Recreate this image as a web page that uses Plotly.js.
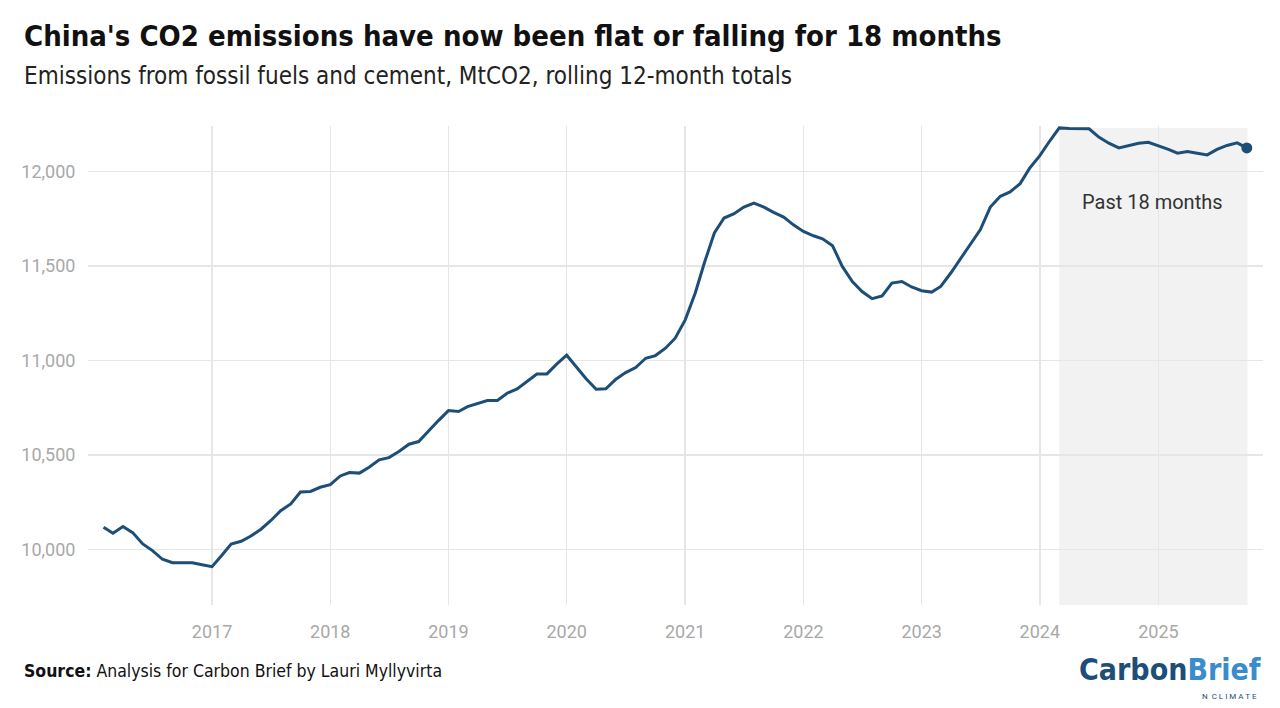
<!DOCTYPE html>
<html>
<head>
<meta charset="utf-8">
<script src="https://cdn.plot.ly/plotly-3.0.1.min.js"></script>
<style>
html,body{margin:0;padding:0;background:#fff;}
#chart{width:1280px;height:708px;}
</style>
</head>
<body>
<div id="chart"></div>
<script>
// ---- Data (MtCO2, rolling 12-month totals), monthly from Feb 2016 to Oct 2025 ----
const firstYear = 2016;
const firstMonth = 2; // February
const v2016 = [10117, 10085, 10120, 10088, 10028, 9993, 9947, 9929, 9929, 9928, 9918];
const v2017 = [9908, 9970, 10028, 10042, 10070, 10106, 10151, 10204, 10240, 10303, 10306, 10328];
const v2018 = [10342, 10388, 10406, 10403, 10434, 10473, 10485, 10517, 10556, 10570, 10628, 10681];
const v2019 = [10734, 10729, 10755, 10773, 10787, 10787, 10826, 10849, 10888, 10927, 10928, 10980];
const v2020 = [11027, 10962, 10902, 10847, 10849, 10900, 10935, 10962, 11011, 11025, 11064, 11117];
const v2021 = [11214, 11356, 11515, 11674, 11753, 11776, 11811, 11832, 11811, 11783, 11758, 11717];
const v2022 = [11682, 11659, 11643, 11606, 11497, 11417, 11364, 11326, 11341, 11409, 11417, 11388];
const v2023 = [11368, 11361, 11391, 11462, 11537, 11612, 11691, 11811, 11868, 11891, 11935, 12018];
const v2024 = [12083, 12162, 12230, 12227, 12227, 12225, 12181, 12149, 12124, 12137, 12149, 12154];
const v2025 = [12137, 12116, 12096, 12105, 12096, 12087, 12116, 12137, 12151, 12124];

const yTickVals = [10000, 10500, 11000, 11500, 12000];
const xTickVals = ['2017-01-01','2018-01-01','2019-01-01','2020-01-01','2021-01-01','2022-01-01','2023-01-01','2024-01-01','2025-01-01'];
const xTickText = ['2017','2018','2019','2020','2021','2022','2023','2024','2025'];
const shadeStart = '2024-03-01';
const shadeEnd = '2025-10-03';
const shadeLabel = 'Past 18 months';

const values = [].concat(v2016, v2017, v2018, v2019, v2020, v2021, v2022, v2023, v2024, v2025);
const dates = values.map((_, i) => {
  const m0 = (firstMonth - 1) + i;
  const y = firstYear + Math.floor(m0 / 12);
  const m = (m0 % 12) + 1;
  return y + '-' + String(m).padStart(2, '0') + '-01';
});

// ---- Layout geometry ----
const W = 1280, H = 708;
const M = {l: 88, r: 17, t: 126, b: 103};
const PW = W - M.l - M.r, PH = H - M.t - M.b;
const px = x => (x - M.l) / PW;
const py = y => (H - M.b - y) / PH;

const lineColor = '#1d4e77';
const condensed = '"Liberation Sans Narrow", "DejaVu Sans Condensed", "Roboto Condensed", sans-serif';

const traces = [
  {
    x: dates, y: values, type: 'scatter', mode: 'lines',
    line: {color: lineColor, width: 3},
    hoverinfo: 'skip', showlegend: false
  },
  {
    x: [dates[dates.length - 1]], y: [values[values.length - 1]],
    type: 'scatter', mode: 'markers',
    marker: {color: lineColor, size: 11},
    hoverinfo: 'skip', showlegend: false, cliponaxis: false
  }
];

const layout = {
  width: W, height: H,
  margin: M,
  paper_bgcolor: '#ffffff', plot_bgcolor: '#ffffff',
  showlegend: false,
  hovermode: false,
  xaxis: {
    type: 'date',
    range: ['2015-12-15', '2025-11-20'],
    tickvals: xTickVals, ticktext: xTickText,
    showgrid: true, gridcolor: '#e6e6e6', gridwidth: 1.5,
    zeroline: false, showline: false,
    ticks: 'outside', ticklen: 10, tickcolor: 'rgba(0,0,0,0)',
    tickfont: {family: 'Roboto, sans-serif', size: 18, color: '#a8a8a8'}
  },
  yaxis: {
    range: [9705, 12240],
    tickvals: yTickVals, tickformat: ',',
    showgrid: true, gridcolor: '#e6e6e6', gridwidth: 1.5,
    zeroline: false, showline: false,
    ticks: 'outside', ticklen: 8, tickcolor: 'rgba(0,0,0,0)',
    tickfont: {family: 'Roboto, sans-serif', size: 18, color: '#a8a8a8'}
  },
  shapes: [
    {
      type: 'rect', layer: 'below',
      xref: 'x', yref: 'paper',
      x0: shadeStart, x1: shadeEnd, y0: 0, y1: py(128),
      fillcolor: '#f2f2f2', line: {width: 0}
    }
  ],
  annotations: [
    {
      text: "<b>China's CO2 emissions have now been flat or falling for 18 months</b>",
      xref: 'paper', yref: 'paper', x: px(22), y: py(36),
      xanchor: 'left', yanchor: 'middle', showarrow: false,
      font: {family: condensed, size: 29, color: '#111111'}
    },
    {
      text: 'Emissions from fossil fuels and cement, MtCO2, rolling 12-month totals',
      xref: 'paper', yref: 'paper', x: px(22), y: py(76),
      xanchor: 'left', yanchor: 'middle', showarrow: false,
      font: {family: condensed, size: 24, color: '#222222'}
    },
    {
      text: shadeLabel,
      xref: 'paper', yref: 'paper', x: px(1152), y: py(202),
      xanchor: 'center', yanchor: 'middle', showarrow: false,
      font: {family: 'Roboto, sans-serif', size: 20, color: '#333333'}
    },
    {
      text: '<b>Source:</b> Analysis for Carbon Brief by Lauri Myllyvirta',
      xref: 'paper', yref: 'paper', x: px(22), y: py(671),
      xanchor: 'left', yanchor: 'middle', showarrow: false,
      font: {family: condensed, size: 17.5, color: '#111111'}
    },
    {
      text: '<b><span style="color:#1d4e77">Carbon</span><span style="color:#3a8ccc">Brief</span></b>',
      xref: 'paper', yref: 'paper', x: px(1263), y: py(669),
      xanchor: 'right', yanchor: 'middle', showarrow: false,
      font: {family: condensed, size: 30, color: '#1d4e77'}
    },
    {
      text: 'N  C L I M A T E',
      xref: 'paper', yref: 'paper', x: px(1259), y: py(696),
      xanchor: 'right', yanchor: 'middle', showarrow: false,
      font: {family: 'Roboto, sans-serif', size: 8, color: '#1d4e77'}
    }
  ]
};

Plotly.newPlot('chart', traces, layout, {displayModeBar: false, staticPlot: true});
</script>
</body>
</html>
